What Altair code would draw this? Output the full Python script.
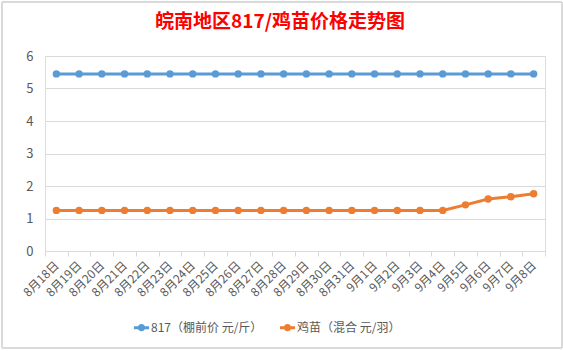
import altair as alt
import pandas as pd

dates = ["8月18日", "8月19日", "8月20日", "8月21日", "8月22日", "8月23日", "8月24日",
         "8月25日", "8月26日", "8月27日", "8月28日", "8月29日", "8月30日", "8月31日",
         "9月1日", "9月2日", "9月3日", "9月4日", "9月5日", "9月6日", "9月7日", "9月8日"]
s817 = [5.45, 5.45, 5.45, 5.45, 5.45, 5.45, 5.45, 5.45, 5.45, 5.45, 5.45,
        5.45, 5.45, 5.45, 5.45, 5.45, 5.45, 5.45, 5.45, 5.45, 5.45, 5.45]
chick = [1.25, 1.25, 1.25, 1.25, 1.25, 1.25, 1.25, 1.25, 1.25, 1.25, 1.25,
         1.25, 1.25, 1.25, 1.25, 1.25, 1.25, 1.25, 1.42, 1.6, 1.67, 1.76]
series_names = ["817（棚前价 元/斤）", "鸡苗（混合 元/羽）"]
series_colors = ["#5B9BD5", "#ED7D31"]

rows = []
for d, v in zip(dates, s817):
    rows.append({"date": d, "value": v, "series": series_names[0]})
for d, v in zip(dates, chick):
    rows.append({"date": d, "value": v, "series": series_names[1]})
df = pd.DataFrame(rows)

FONT = "Noto Sans CJK SC"
GRAY = "#595959"

legend_path = "M-1.6,0L1.6,0M-0.45,0A0.45,0.45,0,1,1,0.45,0A0.45,0.45,0,1,1,-0.45,0Z"

x = alt.X("date:N", sort=dates, title=None,
          scale=alt.Scale(type="band", paddingInner=0, paddingOuter=0),
          bandPosition=0.5,
          axis=alt.Axis(labelAngle=-45, labelAlign="right", labelBaseline="middle",
                        labelPadding=7, labelFontSize=12, labelColor=GRAY, labelFont=FONT,
                        tickBand="extent", tickColor="#d9d9d9", tickSize=5,
                        domainColor="#d9d9d9", grid=False, labelOverlap=False))
y = alt.Y("value:Q", title=None,
          scale=alt.Scale(domain=[0, 6], nice=False),
          axis=alt.Axis(values=[0, 1, 2, 3, 4, 5, 6], labelFontSize=13, labelColor=GRAY,
                        labelFont=FONT, domain=False, ticks=False, labelPadding=12,
                        gridColor="#d9d9d9", gridWidth=1))
color = alt.Color("series:N", sort=series_names,
                  scale=alt.Scale(domain=series_names, range=series_colors),
                  legend=alt.Legend(title=None, orient="none", direction="horizontal",
                                    legendX=90, legendY=265,
                                    symbolType=legend_path, symbolSize=90,
                                    symbolStrokeWidth=3, symbolFillColor="transparent",
                                    labelFont=FONT, labelFontSize=12, labelColor=GRAY,
                                    columnPadding=10, labelOffset=3))

lines = alt.Chart(df).mark_line(strokeWidth=3).encode(x=x, y=y, color=color)
points = alt.Chart(df).mark_circle(size=55, opacity=1).encode(
    x=x, y=y, color=alt.Color("series:N", sort=series_names,
                              scale=alt.Scale(domain=series_names, range=series_colors),
                              legend=None))

frame = alt.Chart(df).mark_rect(fill="transparent", stroke="#d9d9d9", strokeWidth=1).encode(
    x=alt.value(-43), x2=alt.value(517), y=alt.value(-54), y2=alt.value(292))

chart = alt.layer(frame, lines, points).properties(
    width=500, height=195,
    title=alt.TitleParams("皖南地区817/鸡苗价格走势图", color="#FF0000", fontSize=19,
                          fontWeight="bold", font=FONT, anchor="middle", dx=-15,
                          offset=-30),
    padding={"left": 45, "top": 56, "right": 18, "bottom": 100},
    autosize=alt.AutoSizeParams(type="none"),
).configure_view(stroke=None).configure(background="white")

chart.save("out.html", embed_options={"renderer": "svg", "actions": False})
